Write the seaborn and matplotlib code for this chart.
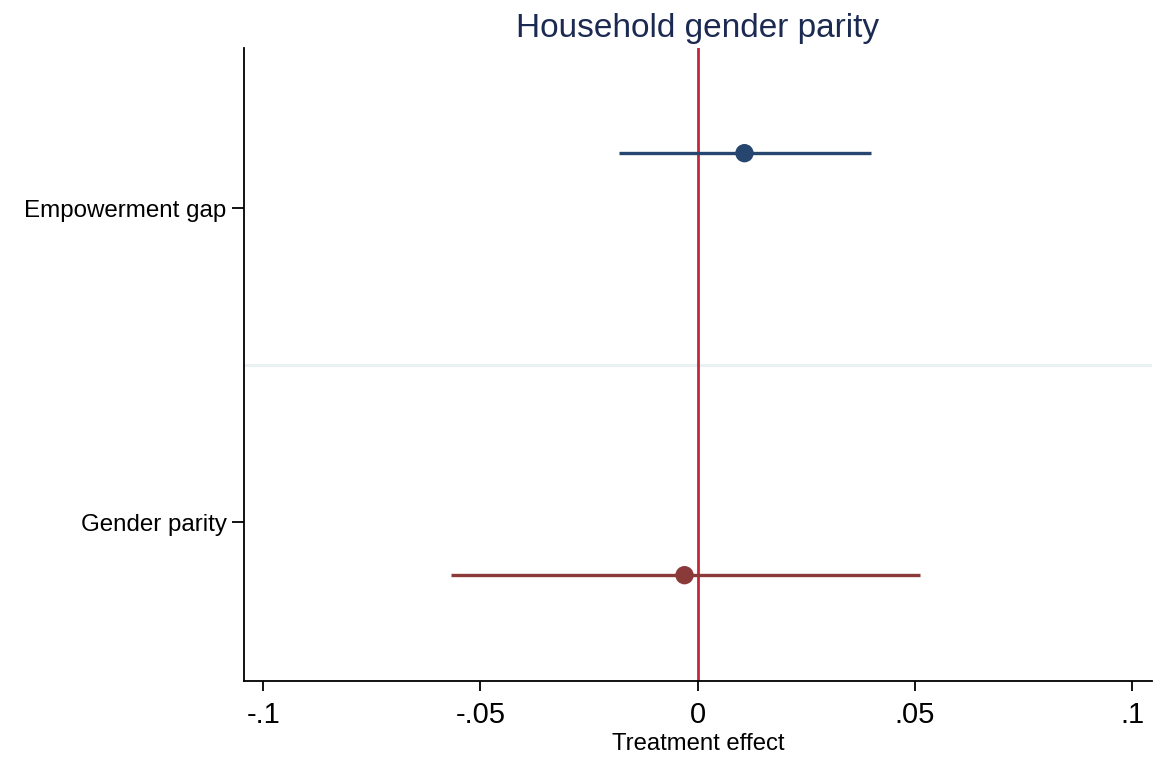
import pandas as pd
import numpy as np
import matplotlib
matplotlib.use("Agg")
import matplotlib.pyplot as plt
import seaborn as sns

# coefficient estimates and 95% CIs
outcomes = ["Empowerment gap", "Gender parity"]
estimates = [0.0108, -0.0030]
ci_low = [-0.0180, -0.0568]
ci_high = [0.0400, 0.0512]
offsets = [-0.175, 0.169]
xticks = [-0.1, -0.05, 0, 0.05, 0.1]
xticklabels = ["-.1", "-.05", "0", ".05", ".1"]

colors = ["#26466f", "#8b3a3a"]

df = pd.DataFrame({
    "outcome": outcomes,
    "est": estimates,
    "lo": ci_low,
    "hi": ci_high,
})
df["pos"] = np.arange(len(outcomes)) + np.array(offsets)

sns.set_style("white")
plt.rcParams["font.family"] = ["Liberation Sans", "DejaVu Sans"]

fig = plt.figure(figsize=(11.61, 7.57), dpi=100)
ax = fig.add_axes([0.2102, 0.1004, 0.7820, 0.8362])

# separator between outcome groups
ax.axhline(0.5, color="#e9f1f2", lw=2.2, zorder=0)
# zero line
ax.axvline(0, color="#c4263a", lw=2.0, zorder=1)

for i, row in df.iterrows():
    ax.hlines(row["pos"], row["lo"], row["hi"], color=colors[i], lw=2.4, zorder=2)

sns.scatterplot(data=df, x="est", y="pos", hue="outcome", palette=colors,
                s=175, edgecolor="none", legend=False, ax=ax, zorder=3)

ax.set_xlim(-0.1044, 0.1046)
ax.set_ylim(1.506, -0.51)
ax.set_yticks(range(len(outcomes)))
ax.set_yticklabels(outcomes, fontsize=17.4, color="black")
ax.set_xticks(xticks)
ax.set_xticklabels(xticklabels, fontsize=21, color="black")
ax.set_xlabel("Treatment effect", fontsize=17.2, labelpad=3, color="black")
ax.set_ylabel("")
ax.set_title("Household gender parity", fontsize=24, color="#1c2a52", pad=8)

for s in ["top", "right"]:
    ax.spines[s].set_visible(False)
for s in ["left", "bottom"]:
    ax.spines[s].set_color("black")
    ax.spines[s].set_linewidth(1.3)
ax.tick_params(axis="both", which="major", direction="out",
               width=1.3, color="black", left=True, bottom=True)
ax.tick_params(axis="x", length=7.2, pad=7)
ax.tick_params(axis="y", length=8.6, pad=4)

fig.savefig("out.png", dpi=100, facecolor="white")
